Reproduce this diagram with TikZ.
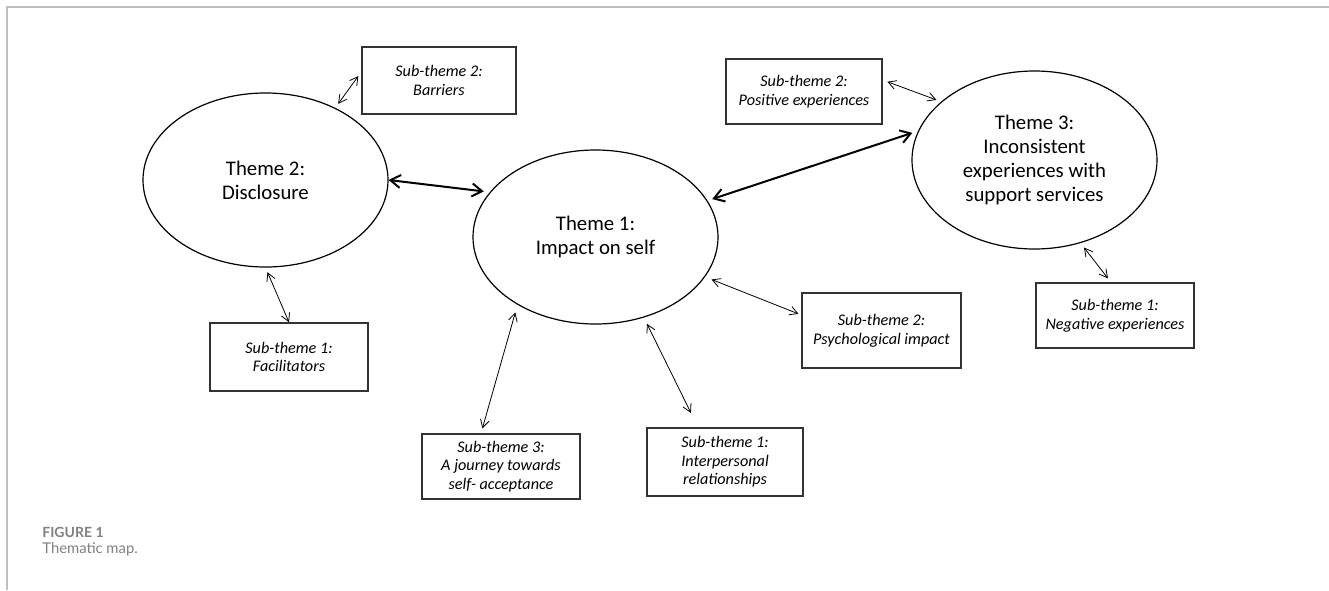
\documentclass[tikz,border=0pt]{standalone}
\usepackage{fontspec}
\setmainfont{Carlito}
\newfontfamily\capfont{Lato}
\usetikzlibrary{arrows.meta,shapes.geometric,calc}
\begin{document}
\begin{tikzpicture}[x=0.5pt,y=-0.5pt,
  theme/.style={ellipse,draw=black,line width=0.6pt,inner sep=0pt,align=center,
    font=\fontsize{10.4}{12}\selectfont},
  sub/.style={rectangle,draw=black!80,line width=0.7pt,inner sep=0pt,align=center,
    font=\fontsize{8.1}{9.3}\selectfont\itshape},
  thinarrow/.style={line width=0.4pt,
    {Straight Barb[length=4pt,width=4.4pt]}-{Straight Barb[length=4pt,width=4.4pt]}},
  thickarrow/.style={line width=1pt,
    {Straight Barb[length=5pt,width=6.5pt]}-{Straight Barb[length=5pt,width=6.5pt]}},
  captxt/.style={anchor=base west,inner sep=0pt,text=black!50},
]
\useasboundingbox (0,0) rectangle (1329,590);
\draw[black!25,line width=0.8pt] (7,590) -- (7,7) -- (1329,7);

% themes
\node[theme,minimum width=122.5pt,minimum height=87pt] (t2) at (265.5,180) {Theme 2:\\Disclosure};
\node[theme,minimum width=122.5pt,minimum height=87pt] (t1) at (595.5,237) {Theme 1:\\Impact on self};
\node[theme,minimum width=122.5pt,minimum height=89pt] (t3) at (1034.5,160) {Theme 3:\\Inconsistent\\experiences with\\support services};

% sub-themes
\node[sub,minimum width=77pt,minimum height=33.5pt] (barriers) at (439,80.5) {Sub-theme 2:\\Barriers};
\node[sub,minimum width=78pt,minimum height=32.5pt] (pos) at (804,91.5) {Sub-theme 2:\\Positive experiences};
\node[sub,minimum width=79pt,minimum height=32.5pt] (neg) at (1115,315.5) {Sub-theme 1:\\Negative experiences};
\node[sub,minimum width=79.5pt,minimum height=37.5pt] (psych) at (881.5,330.5) {Sub-theme 2:\\Psychological impact};
\node[sub,minimum width=79pt,minimum height=34pt] (facil) at (289,357) {Sub-theme 1:\\Facilitators};
\node[sub,minimum width=79pt,minimum height=32.5pt] (journey) at (501,466.5) {Sub-theme 3:\\A journey towards\\self- acceptance};
\node[sub,minimum width=78pt,minimum height=34pt] (interp) at (725,462) {Sub-theme 1:\\Interpersonal\\relationships};

% connectors
\draw[thinarrow,shorten <=2.5pt,shorten >=2.5pt] (t2.46) -- ($(barriers.west)+(0,-8.5)$);
\draw[thinarrow,shorten <=2.5pt] (t2.south) -- (facil.north);
\draw[thickarrow,shorten >=3pt] (t2.east) -- (t1.157);
\draw[thickarrow,shorten <=2.5pt,shorten >=3pt] (t1.18) -- (t3.166);
\draw[thinarrow,shorten <=2.5pt,shorten >=2.5pt] ($(pos.east)+(0,-11.5)$) -- (t3.148);
\draw[thinarrow,shorten <=2.8pt,shorten >=2.5pt] (t3.299) -- ($(neg.north)+(-4,0)$);
\draw[thinarrow,shorten <=3.5pt,shorten >=1.5pt] (t1.-20) -- ($(psych.west)+(0,-15.5)$);
\draw[thinarrow,shorten <=3.5pt,shorten >=8pt] (t1.-59) -- ($(interp.north)+(-27,0)$);
\draw[thinarrow,shorten <=4pt,shorten >=2.5pt] (t1.221) -- ($(journey.north)+(-20,0)$);

% caption
\node[captxt,font=\capfont\bfseries\fontsize{7}{8}\selectfont] (fig) at (42,537) {FIGURE 1};
\node[captxt,font=\capfont\fontsize{7.4}{9}\selectfont] (cap) at (42,553) {Thematic map.};
\end{tikzpicture}
\end{document}
